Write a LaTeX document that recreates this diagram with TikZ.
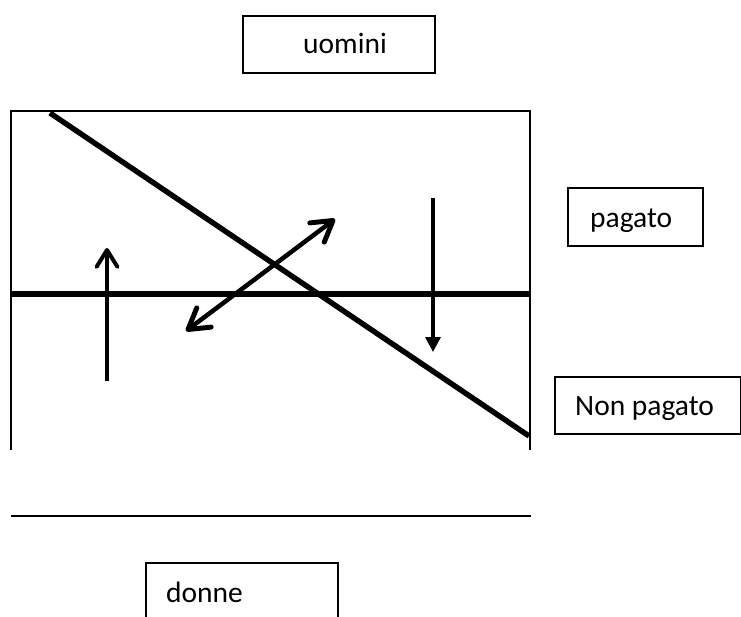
\documentclass[tikz,border=0pt]{standalone}
\usepackage{fontspec}
\setmainfont{Carlito}
\usetikzlibrary{arrows.meta}
\begin{document}
\begin{tikzpicture}[x=1pt,y=-1pt,
  thinline/.style={line width=1.6pt},
  thickline/.style={line width=5.4pt},
  arrowline/.style={line width=3.6pt},
  boxshape/.style={draw,line width=1.6pt,rectangle,inner sep=0pt,anchor=north west},
  labeltext/.style={anchor=base west,inner sep=0pt,font=\fontsize{29.5}{34}\selectfont}]
\useasboundingbox (0,0) rectangle (741,616);
\clip (0,0) rectangle (741,616);
% boxes
\node[boxshape,minimum width=192pt,minimum height=57pt] (uominibox) at (242,15) {};
\node[labeltext] (uomini) at (303,53) {uomini};
\node[boxshape,minimum width=135pt,minimum height=58pt] (pagatobox) at (567,187) {};
\node[labeltext] (pagato) at (590,227) {pagato};
\node[boxshape,minimum width=186pt,minimum height=57pt] (nonpagatobox) at (554,376) {};
\node[labeltext] (nonpagato) at (575,415) {Non pagato};
\node[boxshape,minimum width=192pt,minimum height=80pt] (donnebox) at (145,562) {};
\node[labeltext] (donne) at (166,602) {donne};
% frame
\coordinate (fbl) at (11,450);
\coordinate (ftl) at (11,111);
\coordinate (ftr) at (530,111);
\coordinate (fbr) at (530,450);
\draw[thinline] (fbl) -- (ftl) -- (ftr) -- (fbr);
% thick lines
\coordinate (hl) at (11,294);
\coordinate (hr) at (530,294);
\draw[thickline] (hl) -- (hr);
\coordinate (ds) at (50,113);
\coordinate (de) at (529,436);
\draw[thickline] (ds) -- (de);
% bottom line
\coordinate (bl) at (11,516);
\coordinate (br) at (531,516);
\draw[thinline] (bl) -- (br);
% arrows
\coordinate (upa) at (107,381);
\coordinate (upb) at (107,248);
\draw[arrowline,-{Straight Barb[length=17pt,width=21pt,round,line width=0pt 1.1]}] (upa) -- (upb);
\coordinate (dna) at (433,198);
\coordinate (dnb) at (433,352);
\draw[arrowline,line width=3.3pt,-{Triangle[length=15pt,width=15pt]}] (dna) -- (dnb);
\coordinate (dba) at (186,331);
\coordinate (dbb) at (335,219);
\draw[arrowline,line width=4.5pt,{Straight Barb[length=20pt,width=24pt,round,line width=0pt 1.1]}-{Straight Barb[length=20pt,width=24pt,round,line width=0pt 1.1]}] (dba) -- (dbb);
\end{tikzpicture}
\end{document}
